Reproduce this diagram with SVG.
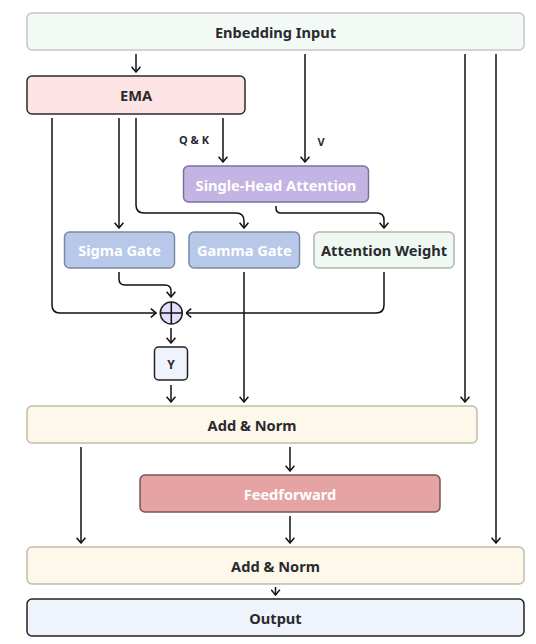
<svg xmlns="http://www.w3.org/2000/svg" width="536" height="644" viewBox="0 0 536 644">
<defs>
<marker id="arr" viewBox="0 0 10 10" refX="9.5" refY="5" markerWidth="10" markerHeight="10" markerUnits="userSpaceOnUse" orient="auto">
<path d="M4.3,0.6 L9.5,5 L4.3,9.4" fill="none" stroke="#111" stroke-width="1.5" stroke-linejoin="miter"/>
</marker>
<style>
.box{stroke-width:1.5}
.t{font-family:"Noto Sans","Open Sans","DejaVu Sans",sans-serif;font-weight:bold;font-size:14.6px;text-anchor:middle;dominant-baseline:central;fill:#2a2a2e}
.w{fill:#ffffff}
.lbl{font-size:11px}
.c{fill:none;stroke:#111;stroke-width:1.5;marker-end:url(#arr)}
.n{fill:none;stroke:#111;stroke-width:1.5}
</style>
</defs>
<g id="connectors">
<path class="c" d="M136,54 V72"/>
<path class="c" d="M305,54 V162"/>
<path class="c" d="M465,54 V402"/>
<path class="c" d="M496,54 V543"/>
<path class="c" d="M223,118 V162"/>
<path class="c" d="M119,118 V228"/>
<path class="c" d="M136,118 V205 Q136,213 144,213 H236 Q244,213 244,221 V228"/>
<path class="c" d="M276,206 V208 Q276,213 281,213 H377 Q384,213 384,220 V228"/>
<path class="c" d="M119,272 V279 Q119,285 125,285 H165 Q171,285 171,291 V297"/>
<path class="c" d="M52,118 V305 Q52,313 60,313 H156"/>
<path class="c" d="M384,272 V305 Q384,313 376,313 H186"/>
<path class="c" d="M171,328 V343"/>
<path class="c" d="M171,385 V402"/>
<path class="c" d="M244,272 V402"/>
<path class="c" d="M81,447 V543"/>
<path class="c" d="M290,447 V471"/>
<path class="c" d="M290,516 V543"/>
<path class="c" d="M275.5,587 V595"/>
<text class="t lbl" x="194" y="139">Q &amp; K</text>
<text class="t lbl" x="321" y="141">V</text>
</g>
<g id="embedding">
<rect class="box" x="27" y="13" width="497" height="37" rx="5" fill="#f3faf6" stroke="#c3c8c4"/>
<text class="t" x="275.5" y="32">Enbedding Input</text>
</g>
<g id="ema">
<rect class="box" x="27" y="76" width="218" height="38" rx="5" fill="#fde3e3" stroke="#2a2a2a"/>
<text class="t" x="136" y="95">EMA</text>
</g>
<g id="attention">
<rect class="box" x="183.5" y="166" width="185" height="36" rx="5" fill="#c3b4e3" stroke="#7e6f9e"/>
<text class="t w" x="276" y="184.5">Single-Head Attention</text>
</g>
<g id="sigma">
<rect class="box" x="64.5" y="232" width="110" height="36" rx="5" fill="#b8c8e8" stroke="#7b88a6"/>
<text class="t w" x="119.5" y="250">Sigma Gate</text>
</g>
<g id="gamma">
<rect class="box" x="189" y="232" width="110.5" height="36" rx="5" fill="#b8c8e8" stroke="#7b88a6"/>
<text class="t w" x="244.3" y="250">Gamma Gate</text>
</g>
<g id="attn-weight">
<rect class="box" x="314" y="232" width="140" height="36" rx="5" fill="#f0f9f1" stroke="#b0b6b1"/>
<text class="t" x="384" y="250">Attention Weight</text>
</g>
<g id="sum">
<circle cx="171.3" cy="313" r="11" fill="#e4defa" stroke="#222" stroke-width="1.5"/>
<path class="n" d="M160.3,313 H182.3 M171.3,302 V324"/>
</g>
<g id="y">
<rect class="box" x="154.5" y="347" width="33" height="33" rx="4" fill="#eef3fc" stroke="#222"/>
<text class="t" x="171" y="364" style="font-size:12px">Y</text>
</g>
<g id="addnorm1">
<rect class="box" x="27" y="406" width="450" height="37" rx="5" fill="#fdf8ea" stroke="#c2bcac"/>
<text class="t" x="252" y="424.5">Add &amp; Norm</text>
</g>
<g id="feedforward">
<rect class="box" x="140" y="475" width="300" height="37" rx="5" fill="#e5a3a3" stroke="#7a5656"/>
<text class="t w" x="290" y="493.5">Feedforward</text>
</g>
<g id="addnorm2">
<rect class="box" x="27" y="547" width="497" height="37" rx="5" fill="#fdf8ea" stroke="#c2bcac"/>
<text class="t" x="275.5" y="565.5">Add &amp; Norm</text>
</g>
<g id="output">
<rect class="box" x="27" y="599" width="497" height="37" rx="5" fill="#eef3fc" stroke="#222"/>
<text class="t" x="275.5" y="617.5">Output</text>
</g>
</svg>
